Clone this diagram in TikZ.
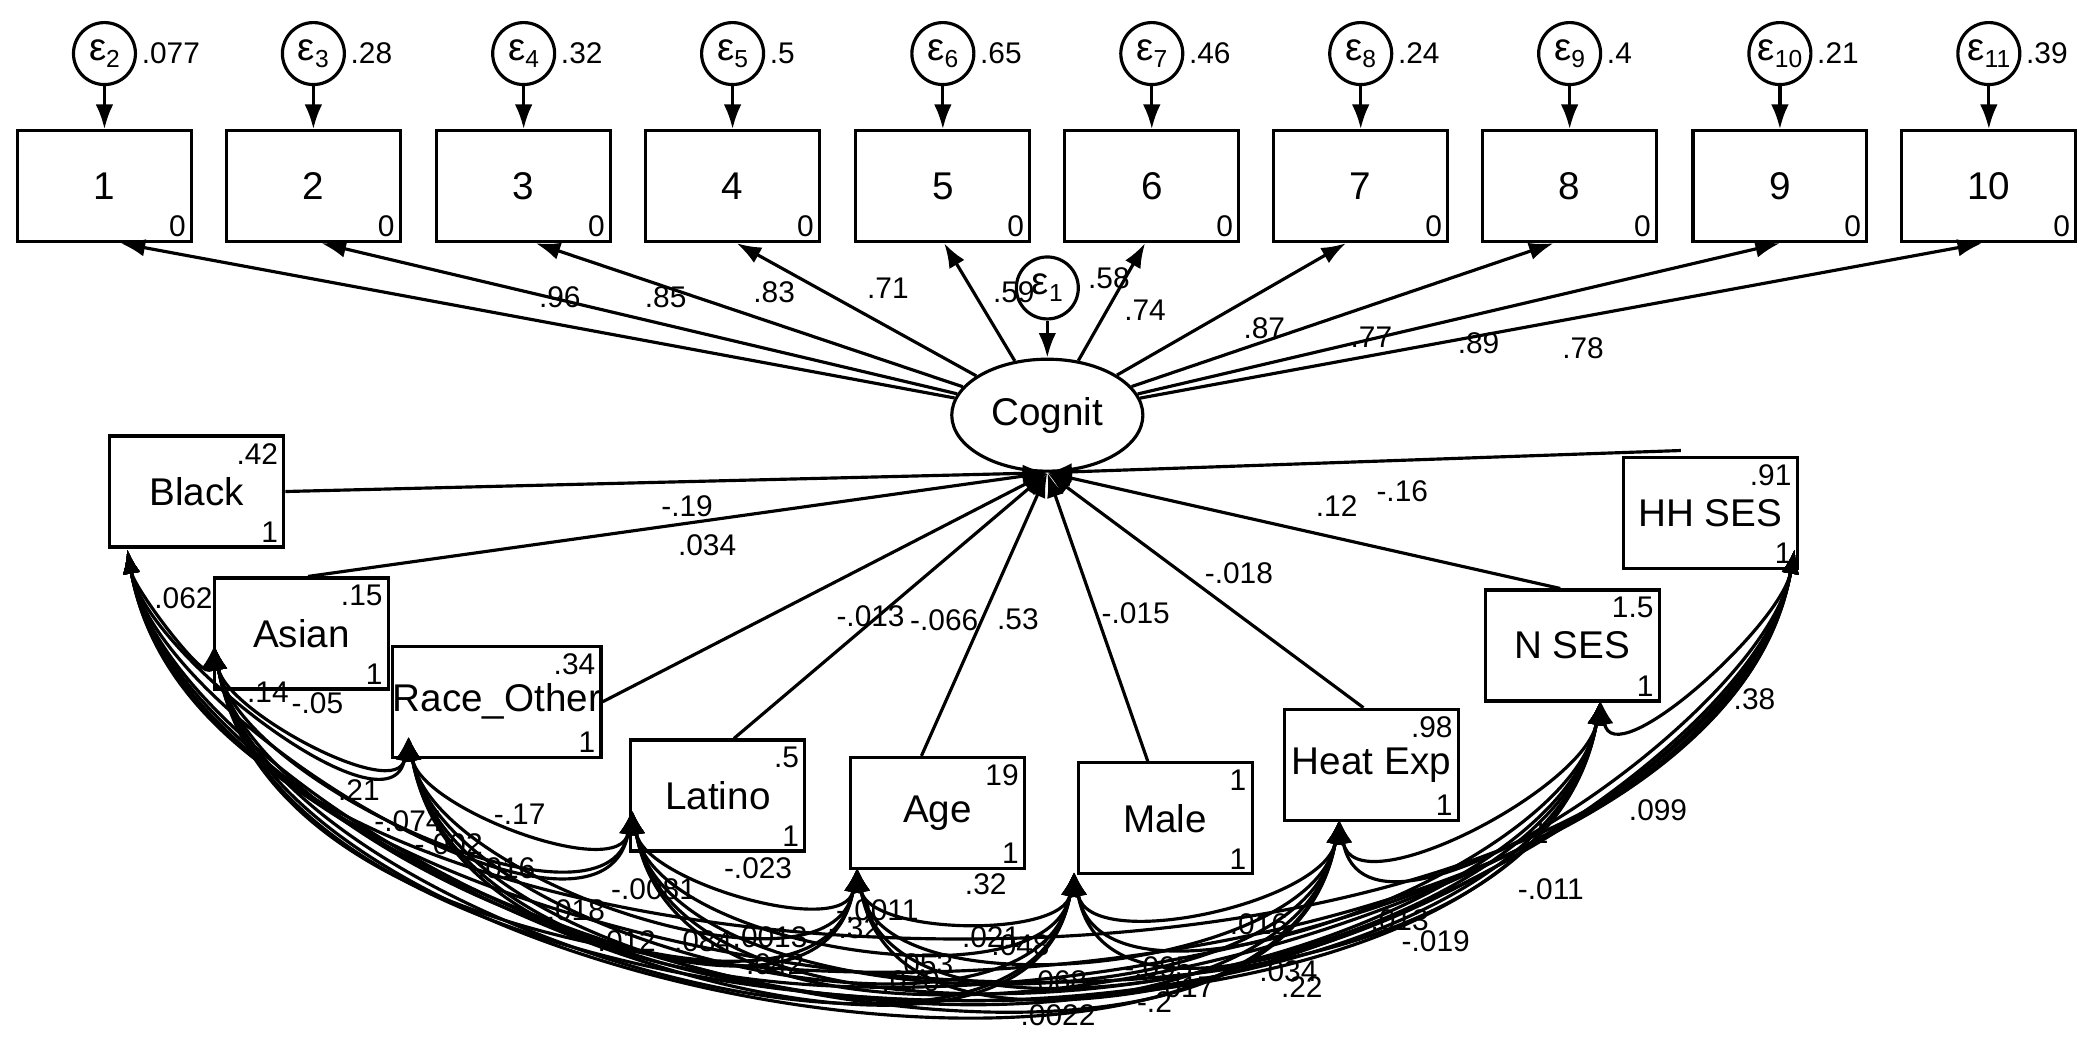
\documentclass[tikz,border=0pt]{standalone}
\usepackage{fontspec}
\setmainfont{Liberation Sans}
\usetikzlibrary{arrows.meta,shapes.geometric,calc}
\newcommand{\eps}[1]{ε\raisebox{-0.35ex}{\fontsize{7}{8}\selectfont #1}}
\begin{document}
\begin{tikzpicture}[x=0.01339cm,y=-0.01339cm,
 lw/.style={line width=0.9pt},
 box/.style={draw,lw,minimum width=1.74cm,minimum height=1.11cm,inner sep=0,font=\fontsize{11}{12}\selectfont},
 err/.style={draw,lw,circle,minimum size=0.62cm,inner sep=0,font=\fontsize{11}{12}\selectfont},
 arr/.style={lw,-{Latex[length=7pt,width=5pt]}},
 darr/.style={lw,{Latex[length=7pt,width=5pt]}-{Latex[length=7pt,width=5pt]}},
 sl/.style={font=\fontsize{8.5}{9}\selectfont,inner sep=0}]
\useasboundingbox (0,0) rectangle (1568,775);
% indicators
\foreach \i/\x/\e/\v in {1/78/2/.077,2/234/3/.28,3/391/4/.32,4/547/5/.5,5/704/6/.65,6/860/7/.46,7/1016/8/.24,8/1172/9/.4,9/1329/10/.21,10/1485/11/.39}{
 \node[box] (b\i) at (\x,139) {\i};
 \node[sl,anchor=south east] at ($(b\i.south east)+(-5,-4)$) {0};
 \node[err] (e\i) at (\x,40) {\eps{\e}};
 \node[sl,anchor=west] at ($(e\i.east)+(3,0)$) {\v};
 \draw[arr] (e\i) -- (b\i);
}
\node[draw,lw,ellipse,minimum width=1.77cm,minimum height=1.12cm,font=\fontsize{11}{12}\selectfont] (cog) at (782,310) {Cognit};
\node[err] (e0) at (782,215) {\eps{1}};
\draw[arr] (e0) -- (cog);
\foreach \i/\dx in {1/12,2/6,3/9,4/3,5/1,6/-5,7/-11,8/-12,9/0,10/-5}{
 \draw[arr] (cog) -- ($(b\i.south)+(\dx,0)$);
}
\foreach \t/\x/\y in {.96/418/222,.85/497/222,.83/578/218,.71/663/215,.59/757/218,.58/828/208,.74/855/232,.87/944/245,.77/1024/252,.89/1104/256,.78/1182/260}
 \node[sl] at (\x,\y) {\t};
% covariates
\foreach \n/\t/\x/\y/\v/\w in {black/Black/147/367/.42/1,asian/Asian/225/473/.15/1,race/Race\_Other/371/524/.34/1,lat/Latino/536/594/.5/1,age/Age/700/607/19/1,male/Male/870/611/1/1,heat/Heat Exp/1024/571/.98/1,nses/N SES/1174/482/1.5/1,hh/HH SES/1277/383/.91/1}{
 \node[box] (\n) at (\x,\y) {\t};
 \node[sl,anchor=north east] at ($(\n.north east)+(-5,6)$) {\v};
 \node[sl,anchor=south east] at ($(\n.south east)+(-5,-4)$) {\w};
}
\draw[arr] (black.east) -- (cog.south);
\draw[arr] ($(asian.north)+(5,0)$) -- (cog.south);
\draw[arr] (race.east) -- (cog.south);
\draw[arr] ($(lat.north)+(12,0)$) -- (cog.south);
\draw[arr] ($(age.north)+(-12,0)$) -- (cog.south);
\draw[arr] ($(male.north)+(-13,0)$) -- (cog.south);
\draw[arr] ($(heat.north)+(-6,0)$) -- (cog.south);
\draw[arr] ($(nses.north)+(-9,0)$) -- (cog.south);
\draw[arr] ($(hh.north)+(-22,-4)$) -- (cog.south);
\foreach \t/\x/\y in {-.19/513/378,.034/528/407,-.013/650/460,-.066/705/463,.53/760/462,-.015/848/458,-.018/925/428,.12/998/378,-.16/1047/367}
 \node[sl] at (\x,\y) {\t};
% covariances
\coordinate (c1) at (95,410); \coordinate (c2) at (160,482); \coordinate (c3) at (305,550);
\coordinate (c4) at (472,605); \coordinate (c5) at (640,648); \coordinate (c6) at (802,651);
\coordinate (c7) at (1000,612); \coordinate (c8) at (1195,523); \coordinate (c9) at (1340,410);
\foreach \a in {1,...,8}{
 \pgfmathtruncatemacro{\s}{\a+1}
 \foreach \b in {\s,...,9}{
  \draw[darr] (c\a) to[out=-80,in=-100,looseness=0.8] (c\b);
 }
}
\foreach \t/\x/\y in {.062/137/447,.14/200/517,-.05/237/525,.21/268/590,-.074/305/613,-.002/335/630,-.17/388/608,.016/378/648,-.023/566/648,-.0081/488/664,.018/430/680,.012/468/703,.084/525/703,.0013/575/700,-.0011/655/680,.32/736/660,-.32/638/693,.021/740/700,.048/762/706,-.042/575/720,.053/690/720,.070/680/733,.068/790/733,-.095/865/722,.017/885/737,-.2/862/748,.0022/790/758,.016/940/690,.013/1045/687,-.019/1072/703,.034/962/725,.22/972/737,-.011/1158/664,.099/1238/605,1/1150/622,.38/1310/522}
 \node[sl] at (\x,\y) {\t};
\end{tikzpicture}
\end{document}
